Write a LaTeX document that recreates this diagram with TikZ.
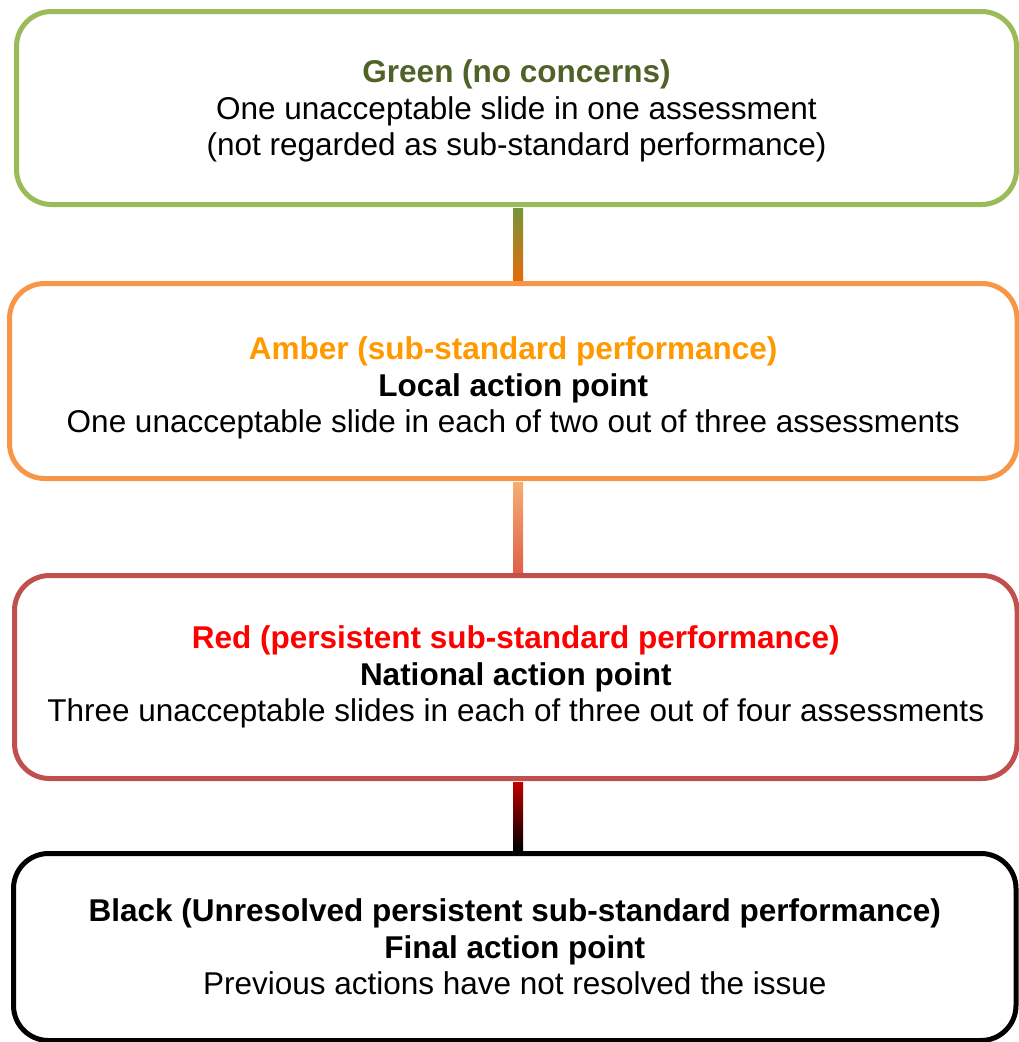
\documentclass[tikz,border=0pt]{standalone}
\usepackage{fontspec}
\setmainfont{Liberation Sans}
\usetikzlibrary{positioning}
\definecolor{gborder}{HTML}{9BBB59}
\definecolor{gtitle}{HTML}{4F6228}
\definecolor{aborder}{HTML}{F79646}
\definecolor{atitle}{HTML}{FF9900}
\definecolor{rborder}{HTML}{C0504D}
\definecolor{rtitle}{HTML}{FF0000}
\definecolor{olivec}{HTML}{77933C}
\definecolor{orangec}{HTML}{E36C09}
\definecolor{peachtop}{HTML}{F6AE72}
\definecolor{peachmid}{HTML}{FBC497}
\definecolor{peachbot}{HTML}{E0604A}
\definecolor{darkredc}{HTML}{C00000}
\tikzset{
  levelbox/.style={draw, line width=5pt, rounded corners=35pt, fill=white,
    inner sep=0pt, align=center, font=\fontsize{31.5}{36.5}\selectfont},
}
\begin{document}
\begin{tikzpicture}[x=1pt,y=1pt]
\useasboundingbox (0,0) rectangle (1019,-1042);
% boxes
\node[levelbox, draw=gborder, minimum width=1000pt, minimum height=193pt] (green) at (516.5,-108)
  {\rule{0pt}{29pt}\textbf{\color{gtitle}Green (no concerns)}\\One unacceptable slide in one assessment\\(not regarded as sub-standard performance)};
\node[levelbox, draw=aborder, minimum width=1007.5pt, minimum height=195pt] (amber) at (513.25,-381)
  {\rule{0pt}{37pt}\textbf{\color{atitle}Amber (sub-standard performance)}\\\textbf{Local action point}\\One unacceptable slide in each of two out of three assessments};
\node[levelbox, draw=rborder, minimum width=1002.5pt, minimum height=203pt] (red) at (515.75,-677)
  {\textbf{\color{rtitle}Red (persistent sub-standard performance)}\\\textbf{National action point}\\Three unacceptable slides in each of three out of four assessments};
\node[levelbox, draw=black, minimum width=1002.5pt, minimum height=187pt] (black) at (514.75,-947)
  {\textbf{Black (Unresolved persistent sub-standard performance)}\\\textbf{Final action point}\\Previous actions have not resolved the issue};
% connectors
\shade[top color=olivec, bottom color=orangec]
  ([xshift=-5pt,yshift=-1pt]green.south -| 518,0) rectangle ([xshift=5pt,yshift=1pt]amber.north -| 518,0);
\shade[top color=peachtop, middle color=peachmid, bottom color=peachbot]
  ([xshift=-5pt,yshift=-1pt]amber.south -| 518,0) rectangle ([xshift=5pt,yshift=1pt]red.north -| 518,0);
\shade[top color=darkredc, bottom color=black]
  ([xshift=-5pt,yshift=-1pt]red.south -| 518,0) rectangle ([xshift=5pt,yshift=1pt]black.north -| 518,0);
\end{tikzpicture}
\end{document}
